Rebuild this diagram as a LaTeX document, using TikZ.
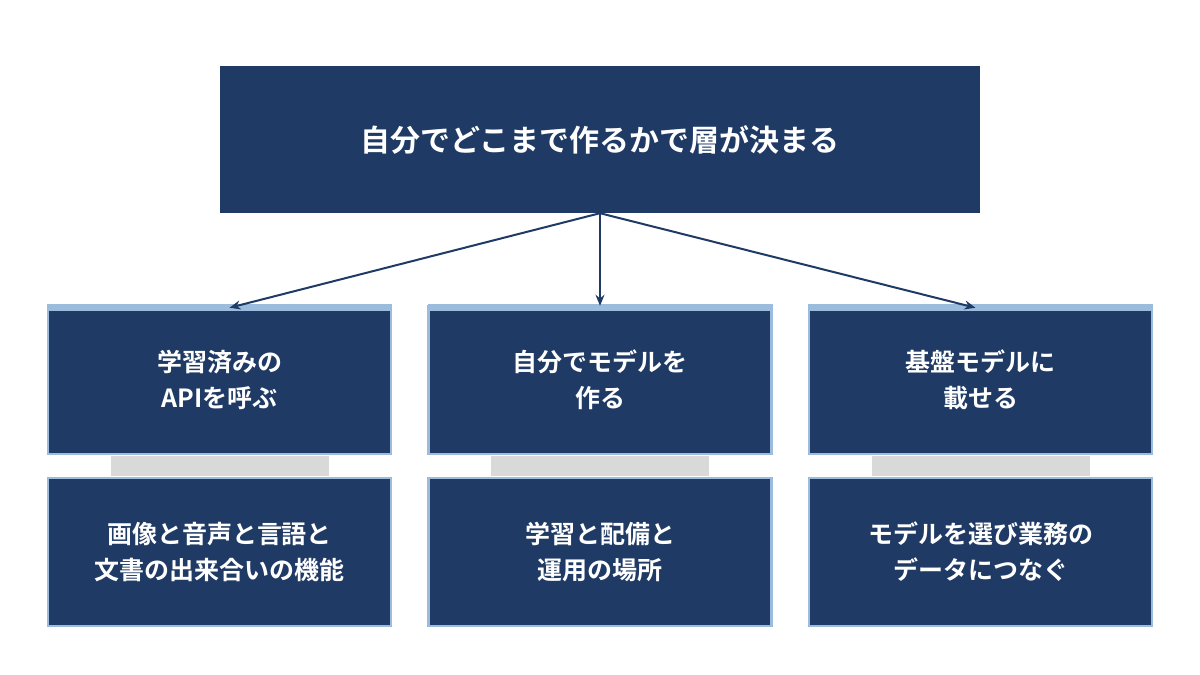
\documentclass[tikz,border=0pt]{standalone}
\usepackage{fontspec}
\setmainfont{Noto Sans CJK JP}[BoldFont={* Bold}]
\usetikzlibrary{arrows.meta}
\definecolor{navy}{HTML}{1F3A64}
\definecolor{lblue}{HTML}{9CBCDD}
\definecolor{bar}{HTML}{D9D9D9}
\begin{document}
\begin{tikzpicture}[x=1pt,y=-1pt,
  box/.style={fill=navy,draw=lblue,line width=2.5pt,inner sep=0pt,text=white,align=center,font=\bfseries\fontsize{25}{36}\selectfont},
  arr/.style={-{Stealth[length=11pt,width=9pt]},draw=navy,line width=2pt}]
\useasboundingbox (0,0) rectangle (1200,675);
\fill[white] (0,0) rectangle (1200,675);
\node[fill=navy,minimum width=760pt,minimum height=147pt,text=white,font=\bfseries\fontsize{30}{36}\selectfont] (top) at (600,139.5) {自分でどこまで作るかで層が決まる};
\foreach \n/\x/\a/\b in {a/219.5/{学習済みの\\APIを呼ぶ}/{画像と音声と言語と\\文書の出来合いの機能},
                         b/600/{自分でモデルを\\作る}/{学習と配備と\\運用の場所},
                         c/980.5/{基盤モデルに\\載せる}/{モデルを選び業務の\\データにつなぐ}}{
  \fill[bar] (\x-109,456) rectangle (\x+109,476);
  \node[box,minimum width=343pt,minimum height=148pt] (\n1) at (\x,380) {\a};
  \fill[lblue] (\x-172.5,304) rectangle (\x+172.5,311);
  \node[box,minimum width=343pt,minimum height=148pt] (\n2) at (\x,552) {\b};
}
\draw[arr] (top.south) -- ([xshift=10pt,yshift=-3pt]a1.north);
\draw[arr] (top.south) -- ([yshift=-1pt]b1.north);
\draw[arr] (top.south) -- ([xshift=-5pt,yshift=-3pt]c1.north);
\end{tikzpicture}
\end{document}
